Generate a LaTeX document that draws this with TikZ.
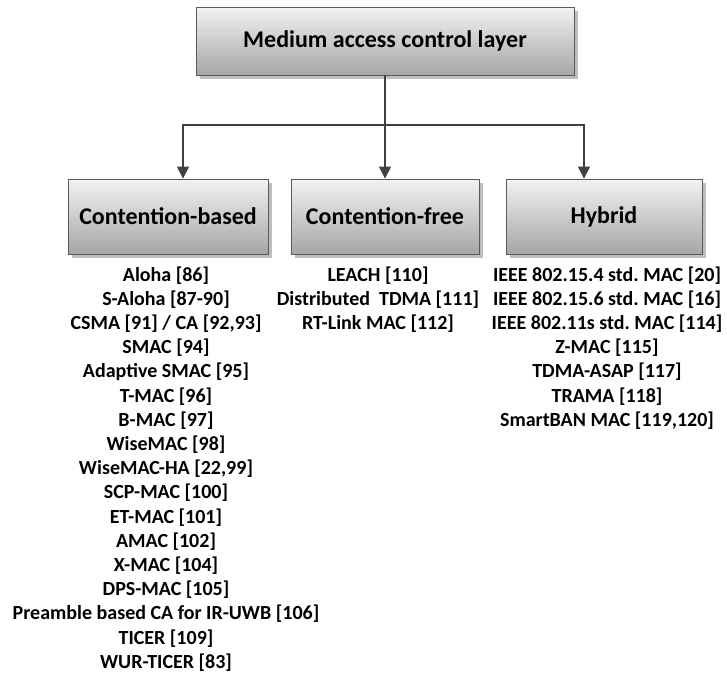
\documentclass[tikz,border=0pt]{standalone}
\usepackage{fontspec}
\setmainfont{Carlito}
\frenchspacing
\usetikzlibrary{arrows.meta,shadows}

\definecolor{boxline}{HTML}{595959}
\definecolor{gradtop}{HTML}{F2F2F2}
\definecolor{gradbot}{HTML}{A6A6A6}
\definecolor{wire}{HTML}{404040}
\definecolor{shade}{HTML}{BDBDBD}

\tikzset{
  box/.style={draw=boxline, line width=0.9pt, top color=gradtop, bottom color=gradbot,
    inner sep=0pt, font=\fontsize{24}{28}\selectfont\bfseries,
    general shadow={fill=shade, shadow xshift=4pt, shadow yshift=-4pt}},
  conn/.style={draw=wire, line width=1.5pt,
    -{Triangle[length=12pt,width=12pt]}},
  entry/.style={anchor=base, inner sep=0pt, font=\fontsize{20}{24}\selectfont\bfseries}
}

\begin{document}
\begin{tikzpicture}[x=1pt,y=-1pt]
  \useasboundingbox (0,0) rectangle (727,675);

  % category boxes
  \node[box, minimum width=378pt, minimum height=68pt] (top) at (385,41) {Medium access control layer};
  \node[box, minimum width=200pt, minimum height=75pt] (cb) at (168,216.5) {Contention-based};
  \node[box, minimum width=188pt, minimum height=75pt] (cf) at (385,216.5) {Contention-free};
  \node[box, minimum width=196pt, minimum height=75pt] (hy) at (604,216.5) {Hybrid};

  % connectors
  \coordinate (split) at (385,125);
  \draw[conn] (top.south) -- (cf.north);
  \draw[conn] (split) -| ([xshift=15pt]cb.north);
  \draw[conn] (split) -| ([xshift=-20pt]hy.north);

  % protocol lists
  \foreach \t [count=\i] in {Aloha [86], S-Aloha [87-90], {CSMA [91] / CA [92,93]},
      SMAC [94], Adaptive SMAC [95], T-MAC [96], B-MAC [97], WiseMAC [98],
      {WiseMAC-HA [22,99]}, SCP-MAC [100], ET-MAC [101], AMAC [102], X-MAC [104],
      DPS-MAC [105], Preamble based CA for IR-UWB [106], TICER [109], WUR-TICER [83]}
    \node[entry] (cb\i) at (166,{281+24.2*(\i-1)}) {\t};

  \foreach \t [count=\i] in {LEACH [110], Distributed\ \ TDMA [111], RT-Link MAC [112]}
    \node[entry] (cf\i) at (378,{281+24.2*(\i-1)}) {\t};

  \foreach \t [count=\i] in {IEEE 802.15.4 std. MAC [20], IEEE 802.15.6 std. MAC [16],
      IEEE 802.11s std. MAC [114], Z-MAC [115], TDMA-ASAP [117], TRAMA [118],
      {SmartBAN MAC [119,120]}}
    \node[entry] (hy\i) at (607,{281+24.2*(\i-1)}) {\t};
\end{tikzpicture}
\end{document}
